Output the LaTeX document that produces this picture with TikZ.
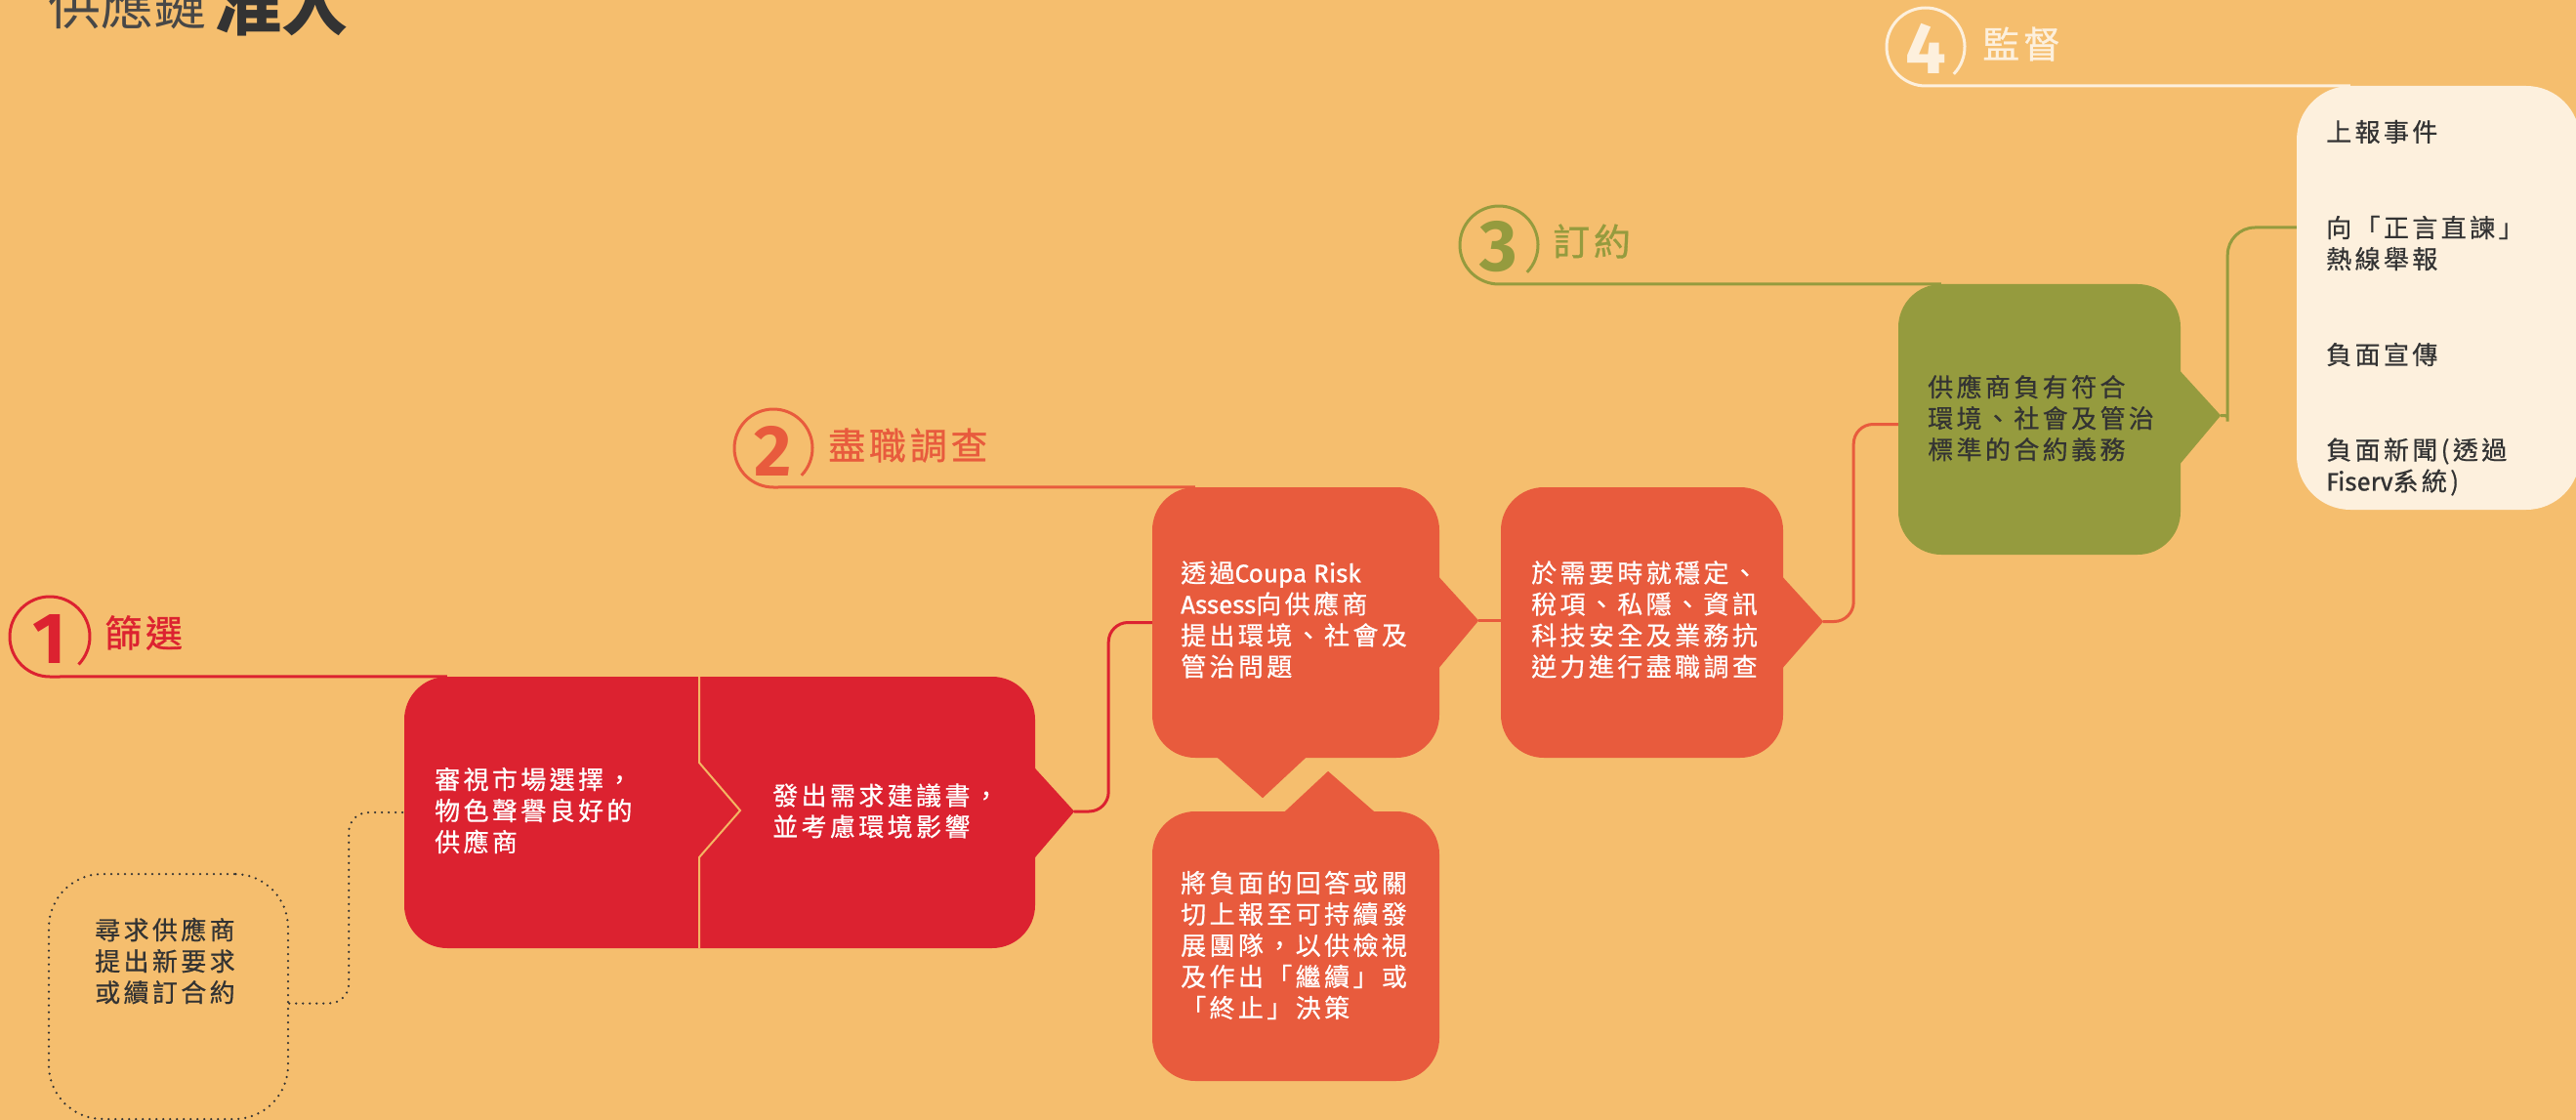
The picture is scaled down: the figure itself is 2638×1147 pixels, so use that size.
\documentclass[tikz,border=0pt]{standalone}
\usepackage{fontspec}
\usetikzlibrary{calc}
\newfontfamily\cjk{Noto Sans CJK TC}[LetterSpace=13, FakeBold=0.6]
\newfontfamily\cjkl{Noto Sans CJK TC}[LetterSpace=10, FakeBold=0.8]
\newfontfamily\cjkt{Noto Sans CJK TC}
\newfontfamily\digf{Fira Sans}
\newfontfamily\latf{Fira Sans}[FakeBold=0.8]
\newcommand{\lat}[1]{{\latf #1}}
\definecolor{bgc}{HTML}{F5BE6E}
\definecolor{redc}{HTML}{DC2230}
\definecolor{orc}{HTML}{E85B3D}
\definecolor{grc}{HTML}{959B3E}
\definecolor{crc}{HTML}{FDF0DD}
\definecolor{darkc}{HTML}{333333}
\definecolor{divc}{HTML}{F4B563}
\tikzset{
  box/.style={rounded corners=44pt, inner sep=0pt, draw=none},
  boxtext/.style={font={\cjk\fontsize{26}{32}\selectfont}, align=left, text=white, anchor=west, inner sep=0pt},
  darktext/.style={font={\cjk\fontsize{26}{32}\selectfont}, align=left, text=darkc, anchor=west, inner sep=0pt},
  conn/.style={line width=3pt},
  dotline/.style={line width=2.5pt, line cap=round, dash pattern=on 0pt off 7pt},
  lbl/.style={font={\cjkl\fontsize{38}{40}\selectfont}, anchor=west, inner sep=0pt},
  dig/.style={font={\digf\bfseries\fontsize{74}{74}\selectfont}, inner sep=0pt},
}
\begin{document}
\begin{tikzpicture}[x=1pt,y=1pt]
\useasboundingbox (0,0) rectangle (2638,-1147);
\fill[bgc] (0,0) rectangle (2638,-1147);
\clip (0,0) rectangle (2638,-1147);

% title
\node[anchor=south west, inner sep=0pt, text=darkc!90, font={\cjkt\fontsize{54}{60}\selectfont}] (ttl1) at (49,-30) {供應鏈};
\node[anchor=south west, inner sep=0pt, text=darkc, font={\cjkt\bfseries\fontsize{68}{72}\selectfont}] (ttl2) at (220,-37) {准入};

% ---- boxes ----
\node[box, fill=redc, minimum width=646pt, minimum height=278pt] (b1) at (737,-832) {};
\draw[divc, line width=2pt] (716,-693) -- (716,-781) -- (758,-830) -- (716,-878) -- (716,-971);
\fill[redc] ([xshift=-1pt,yshift=46pt]b1.east) -- ([xshift=40pt,yshift=1pt]b1.east) coordinate (t1) -- ([xshift=-1pt,yshift=-47pt]b1.east) -- cycle;
\node[boxtext] (b1a) at (445,-830) {審視市場選擇，\\物色聲譽良好的\\供應商};
\node[boxtext] (b1b) at (791,-830.5) {發出需求建議書，\\並考慮環境影響};

\node[box, fill=orc, minimum width=294pt, minimum height=277pt] (b2) at (1327,-637.5) {};
\fill[orc] ([xshift=-1pt,yshift=47pt]b2.east) -- ([xshift=40pt,yshift=2pt]b2.east) coordinate (t2) -- ([xshift=-1pt,yshift=-47pt]b2.east) -- cycle;
\fill[orc] ([xshift=-81pt,yshift=1pt]b2.south) -- ([xshift=-34pt,yshift=-41pt]b2.south) -- ([xshift=11pt,yshift=1pt]b2.south) -- cycle;
\node[boxtext] (b2t) at (1209,-634.5) {透過\lat{Coupa Risk}\\\lat{Assess}向供應商\\提出環境、社會及\\管治問題};

\node[box, fill=orc, minimum width=289pt, minimum height=277pt] (b3) at (1681.5,-637.5) {};
\fill[orc] ([xshift=-1pt,yshift=47pt]b3.east) -- ([xshift=41pt,yshift=1pt]b3.east) coordinate (t3) -- ([xshift=-1pt,yshift=-47pt]b3.east) -- cycle;
\node[boxtext] (b3t) at (1568,-634.5) {於需要時就穩定、\\稅項、私隱、資訊\\科技安全及業務抗\\逆力進行盡職調查};

\node[box, fill=orc, minimum width=294pt, minimum height=276pt] (b4) at (1327,-969) {};
\fill[orc] ([xshift=-12pt,yshift=-1pt]b4.north) -- ([xshift=33pt,yshift=41pt]b4.north) -- ([xshift=81pt,yshift=-1pt]b4.north) -- cycle;
\node[boxtext] (b4t) at (1209,-968) {將負面的回答或關\\切上報至可持續發\\展團隊，以供檢視\\及作出「繼續」或\\「終止」決策};

\node[box, fill=grc, minimum width=289pt, minimum height=277pt] (b5) at (2088.5,-429.5) {};
\fill[grc] ([xshift=-1pt,yshift=50pt]b5.east) -- ([xshift=41pt,yshift=4pt]b5.east) coordinate (t5) -- ([xshift=-1pt,yshift=-46pt]b5.east) -- cycle;
\node[darktext] (b5t) at (1974,-428) {供應商負有符合\\環境、社會及管治\\標準的合約義務};

\node[box, fill=crc, rounded corners=55pt, minimum width=290pt, minimum height=434pt] (b6) at (2497,-305) {};
\node[darktext] (m1) at (2382,-135) {上報事件};
\node[darktext] (m2) at (2382,-249) {向「正言直諫」\\熱線舉報};
\node[darktext] (m3) at (2382,-363) {負面宣傳};
\node[darktext] (m4) at (2382,-478) {負面新聞(透過\\\lat{Fiserv}系統)};

\node[box, rounded corners=55pt, draw=darkc, dotline, minimum width=245pt, minimum height=251pt] (d0) at (172.5,-1020.5) {};
\node[darktext] (d0t) at (97,-984) {尋求供應商\\提出新要求\\或續訂合約};

% ---- connectors ----
\draw[redc, conn, rounded corners=20pt] (t1) -- ++(35,0) |- (b2.west);
\draw[orc, conn] (t2) -- (t2 -| b3.west);
\draw[orc, conn, rounded corners=20pt] (t3) -- ++(31,0) |- ([yshift=-5pt]b5.west);
\draw[grc, conn, rounded corners=28pt] (t5) .. controls ($(t5)+(7,0)$) .. ($(t5)+(7,22)$) |- ([yshift=72pt]b6.west);
\draw[darkc, dotline, rounded corners=20pt] ([yshift=-7pt]d0.east) -- ++(61,0) |- (b1.west);

% ---- stage labels ----
\coordinate (c1) at (51,-652);
\draw[redc, conn] ($(c1)+(-44:41)$) arc[start angle=-44, end angle=270, radius=41] -- ([xshift=44pt]b1.north west);
\node[dig, text=redc] (n1) at ([yshift=-2pt]c1) {1};
\node[lbl, text=redc] (l1) at (107,-648) {篩選};

\coordinate (c2) at (792,-459);
\draw[orc, conn] ($(c2)+(-44:40)$) arc[start angle=-44, end angle=270, radius=40] -- ([xshift=44pt]b2.north west);
\node[dig, text=orc] (n2) at ([yshift=-3pt]c2) {2};
\node[lbl, text=orc] (l2) at (848,-456) {盡職調查};

\coordinate (c3) at (1535,-251);
\draw[grc, conn] ($(c3)+(-44:40)$) arc[start angle=-44, end angle=270, radius=40] -- ([xshift=44pt]b5.north west);
\node[dig, text=grc] (n3) at ([yshift=-2pt]c3) {3};
\node[lbl, text=grc] (l3) at (1590,-247) {訂約};

\coordinate (c4) at (1972,-48);
\draw[crc, conn] ($(c4)+(-44:40)$) arc[start angle=-44, end angle=270, radius=40] -- ([xshift=55pt]b6.north west);
\node[dig, text=crc] (n4) at ([yshift=-2pt]c4) {4};
\node[lbl, text=crc] (l4) at (2030,-45) {監督};
\end{tikzpicture}
\end{document}
